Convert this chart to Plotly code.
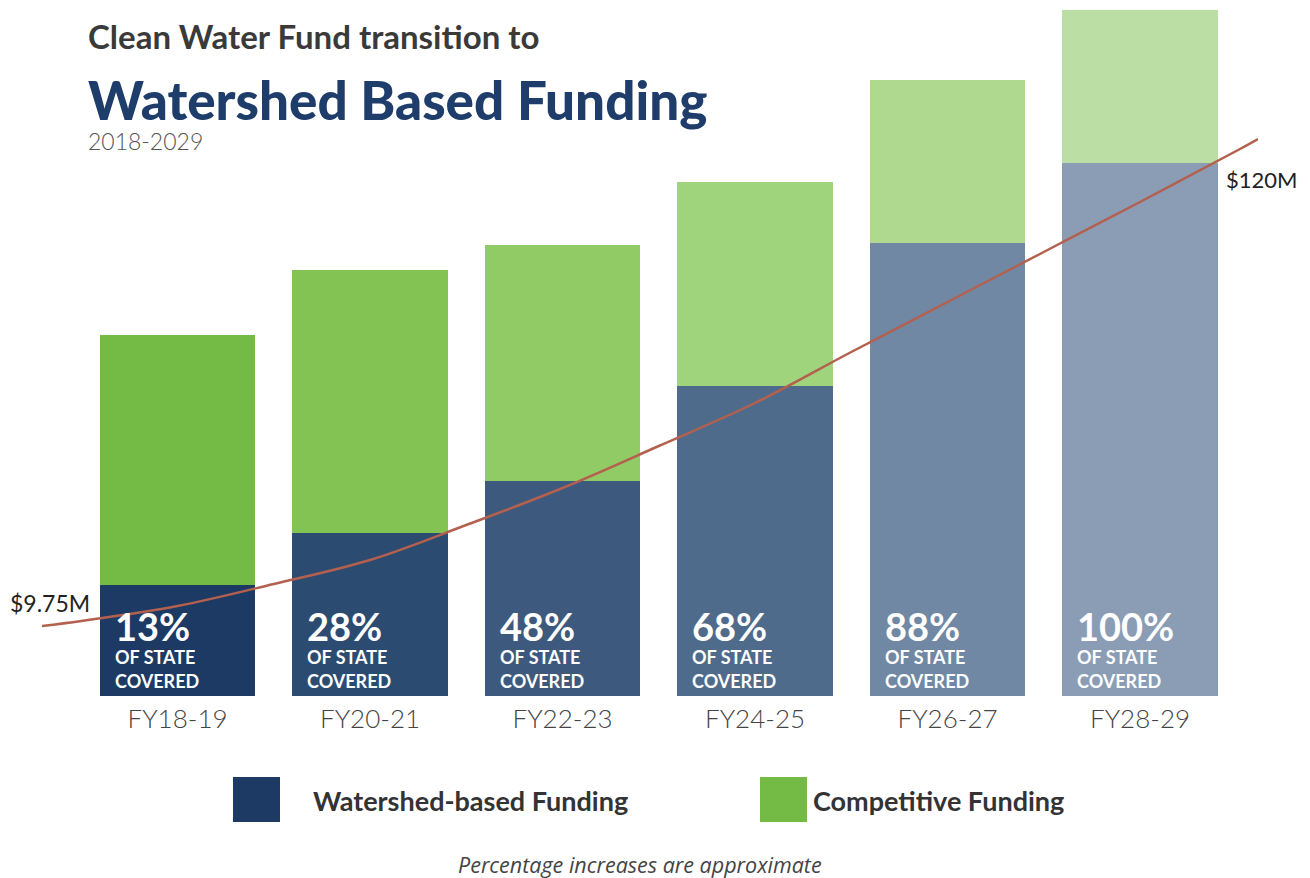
import plotly.graph_objects as go

categories = ["FY18-19", "FY20-21", "FY22-23", "FY24-25", "FY26-27", "FY28-29"]
watershed = [11.1, 16.3, 21.5, 31.0, 45.3, 53.3]
competitive = [25.0, 26.3, 23.6, 20.4, 16.3, 15.3]
pct_labels = ["13%", "28%", "48%", "68%", "88%", "100%"]

# trend line (position along category axis, value)
trend_x = [-0.704, -0.5, 0, 0.5, 1, 1.5, 2, 2.5, 3, 3.5, 4, 4.5, 5, 5.5, 5.613]
trend_y = [7.0, 7.5, 9.0, 11.2, 13.6, 17.1, 20.8, 25.0, 29.3, 34.4, 39.4, 44.4, 49.4, 54.5, 55.7]
trend_start_label = "$9.75M"
trend_end_label = "$120M"

ws_colors = ["#1c3a64", "#2c4b71", "#3d5a7e", "#4f6b8b", "#7088a3", "#8a9db5"]
cp_colors = ["#74bb45", "#82c353", "#91cb65", "#9fd37c", "#aed98e", "#badea3"]

# page offset (browser body margin) compensation
OFF = 8
FW, FH = 1310 - OFF, 878 - OFF
ML, MR, MT, MB = 42 - OFF, 52, 0, 182
PW, PH = FW - ML - MR, FH - MT - MB


def px(x, y):
    """reference-picture pixel -> paper coords"""
    return (x - OFF - ML) / PW, (FH - MB - (y - OFF)) / PH


xs = list(range(len(categories)))
fig = go.Figure()
fig.add_trace(go.Bar(x=xs, y=watershed, marker=dict(color=ws_colors, line=dict(width=0)),
                     width=0.81, name="Watershed-based Funding", showlegend=False, hoverinfo="skip"))
fig.add_trace(go.Bar(x=xs, y=competitive, marker=dict(color=cp_colors, line=dict(width=0)),
                     width=0.81, name="Competitive Funding", showlegend=False, hoverinfo="skip"))
fig.add_trace(go.Scatter(x=trend_x, y=trend_y, mode="lines", line=dict(color="#b4604f", width=2.5, shape="spline"),
                         showlegend=False, hoverinfo="skip"))

annotations = []
for i, p in enumerate(pct_labels):
    annotations.append(dict(
        x=i, y=0, xref="x", yref="y", xanchor="left", yanchor="bottom", xshift=-65, yshift=2,
        align="left", showarrow=False,
        text=f"<span style='font-size:38px'><b>{p}</b></span><br><b>OF STATE</b><br><b>COVERED</b>",
        font=dict(family="Lato", size=18, color="white")))


def ann(x, y, text, size, color, family="Lato", xanchor="left", yanchor="middle", weight=None):
    xp, yp = px(x, y)
    f = dict(family=family, size=size, color=color)
    if weight:
        f["weight"] = weight
    return dict(x=xp, y=yp, xref="paper", yref="paper", text=text, showarrow=False, align="left",
                xanchor=xanchor, yanchor=yanchor, font=f)


annotations += [
    ann(8, 603, trend_start_label, 23, "#222222"),
    ann(1224, 179, trend_end_label, 22, "#222222"),
    ann(86, 36, "<b>Clean Water Fund transition to</b>", 33, "#3a3a3a"),
    ann(86, 157,
        "<span style='font-size:53px;color:#1f3d6b;font-weight:900'>Watershed Based Funding</span>"
        "<br><span style='font-weight:300'>2018-2029</span>",
        23, "#555555", yanchor="bottom"),
    ann(311, 800, "<b>Watershed-based Funding</b>", 27, "#333333"),
    ann(811, 800, "<b>Competitive Funding</b>", 27, "#333333"),
    ann(640, 864, "<i>Percentage increases are approximate</i>", 21.5, "#444444", family="Open Sans", xanchor="center"),
]


def rect(x0, y0, x1, y1, color):
    a0, b1 = px(x0, y0)
    a1, b0 = px(x1, y1)
    return dict(type="rect", xref="paper", yref="paper", x0=a0, x1=a1, y0=b0, y1=b1,
                fillcolor=color, line=dict(width=0), layer="above")


shapes = [rect(233, 777, 280, 822, ws_colors[0]), rect(760, 777, 807, 822, cp_colors[0])]

fig.update_layout(
    width=FW, height=FH, barmode="stack", bargap=0,
    margin=dict(l=ML, r=MR, t=MT, b=MB, autoexpand=False),
    plot_bgcolor="white", paper_bgcolor="white",
    xaxis=dict(range=[-0.704, 5.613], tickmode="array", tickvals=xs, ticktext=categories,
               showgrid=False, zeroline=False, showline=False, ticks="", ticklabelstandoff=5,
               tickfont=dict(family="Lato", size=26, color="#444444", weight=300)),
    yaxis=dict(range=[0, 68.8], visible=False, showgrid=False, zeroline=False),
    annotations=annotations, shapes=shapes,
)
fig.write_html("out.html")
